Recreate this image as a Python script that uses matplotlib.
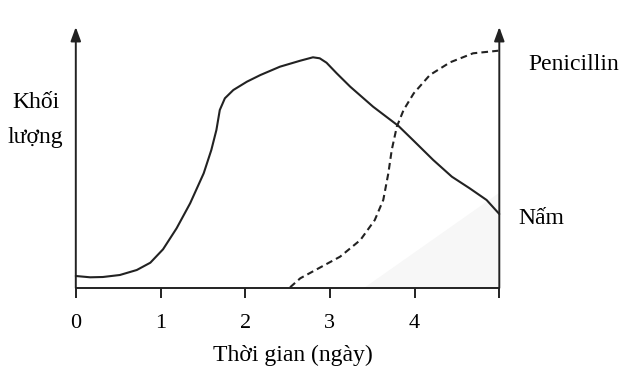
import numpy as np
import matplotlib
matplotlib.use("Agg")
import matplotlib.pyplot as plt
from matplotlib.patches import Polygon

plt.rcParams['font.family'] = ['Liberation Serif', 'DejaVu Serif']

# fungus mass (Nấm)
nam_x = [0.00, 0.17, 0.32, 0.52, 0.72, 0.88, 1.03, 1.19, 1.35, 1.51, 1.60, 1.66,
         1.70, 1.76, 1.86, 2.02, 2.18, 2.41, 2.65, 2.80, 2.88, 2.96, 3.08, 3.24,
         3.51, 3.81, 3.98, 4.22, 4.44, 4.65, 4.85, 5.00]
nam_y = [12, 10.7, 11, 13, 18, 25.3, 38.7, 59.7, 84.7, 114.7, 138, 158,
         178, 189.7, 198, 206.3, 213, 221.3, 227.3, 230.7, 229.7, 225.3, 214.7, 201.3,
         181.3, 162, 148, 128, 111.3, 99.7, 88, 74]

# penicillin (dashed)
pen_x = [2.53, 2.65, 2.88, 3.12, 3.36, 3.53, 3.63, 3.69, 3.73, 3.79, 3.87, 3.99,
         4.18, 4.42, 4.69, 4.99]
pen_y = [0.7, 9.7, 20.3, 31.3, 48, 68, 88, 114.7, 138, 161.3, 178, 194.7,
         213, 225.7, 234.7, 237.3]

ticks = [0, 1, 2, 3, 4, 5]
tick_labels = ['0', '1', '2', '3', '4', '']

fig = plt.figure(figsize=(6.24, 3.72), dpi=100)
ax = fig.add_axes([75.8 / 624, 84 / 372, 423.5 / 624, 261 / 372])
ax.set_xlim(0, 5)
ax.set_ylim(0, 261)

# faint grey shading in the lower right corner of the scan
ax.add_patch(Polygon([[3.4, 0], [5, 0], [5, 95]], closed=True,
                     facecolor='#f7f7f7', edgecolor='none', zorder=0))

ax.plot(nam_x, nam_y, color='#222222', lw=1.5, solid_joinstyle='round',
        solid_capstyle='round', clip_on=False)
ax.plot(pen_x, pen_y, color='#222222', lw=1.5, ls=(0, (3.2, 2.0)), clip_on=False)

for s in ['top', 'left', 'right']:
    ax.spines[s].set_visible(False)
ax.spines['bottom'].set_linewidth(1.4)
ax.spines['bottom'].set_color('#222222')

# vertical axes with arrow heads
for xv in [0, 5]:
    ax.annotate('', xy=(xv, 261), xytext=(xv, 0),
                arrowprops=dict(arrowstyle='-|>,head_length=0.6,head_width=0.22',
                                color='#222222', lw=1.4,
                                mutation_scale=14, shrinkA=0, shrinkB=0),
                annotation_clip=False)

ax.set_yticks([])
ax.set_xticks(ticks)
ax.set_xticklabels(tick_labels, fontsize=16)
ax.tick_params(axis='x', direction='out', length=7.5, width=1.4, color='#222222', pad=11)

fig.text(293 / 624, 1 - 355 / 372, 'Thời gian (ngày)', fontsize=17,
         ha='center', va='center')
fig.text(36 / 624, 1 - 103 / 372, 'Khối', fontsize=17, ha='center', va='center')
fig.text(35 / 624, 1 - 137 / 372, 'lượng', fontsize=17, ha='center', va='center')
fig.text(528 / 624, 1 - 64 / 372, 'Penicillin', fontsize=17, ha='left', va='center')
fig.text(518 / 624, 1 - 219 / 372, 'Nấm', fontsize=17, ha='left', va='center')

fig.savefig('out.png', dpi=100)
